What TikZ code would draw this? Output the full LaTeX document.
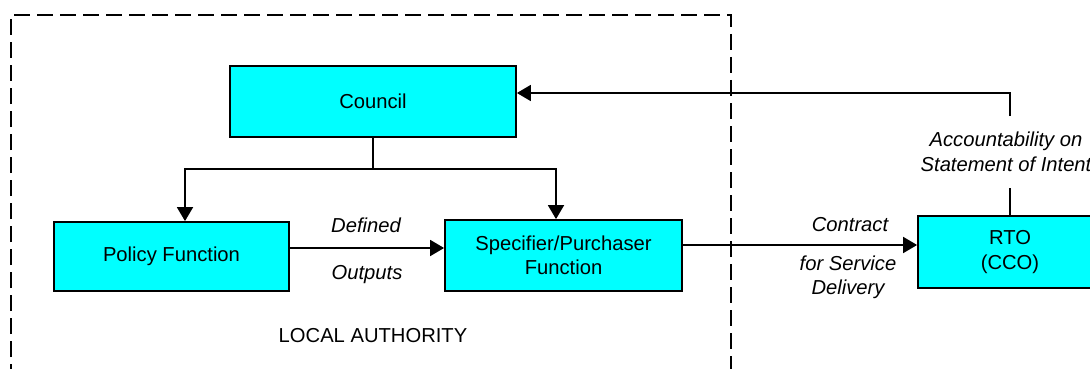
\documentclass[tikz,border=0pt]{standalone}
\usepackage{fontspec}
\setmainfont{Liberation Sans}
\usetikzlibrary{arrows.meta,calc}
\definecolor{boxfill}{RGB}{0,255,255}
\tikzset{
  unit/.style={rectangle, draw=black, line width=1.8pt, fill=boxfill, align=center,
    inner sep=0pt, font=\fontsize{20.2}{24.5}\selectfont},
  lbl/.style={font=\fontsize{20.2}{24.5}\selectfont\itshape, align=center, inner sep=0pt},
  conn/.style={line width=1.8pt, -{Triangle[length=14pt,width=16pt]}},
  plain/.style={line width=1.8pt},
  frame/.style={line width=1.6pt, dash pattern=on 16pt off 7pt},
}
\begin{document}
\begin{tikzpicture}[x=1pt,y=-1pt]
  \useasboundingbox (0,0) rectangle (1090,369);
  \clip (0,0) rectangle (1090,369);

  % local authority boundary (open at the bottom)
  \draw[frame] (11,380) -- (11,15) -- (731,15) -- (731,380);
  \node[font=\fontsize{20.2}{24}\selectfont, inner sep=0pt] (la) at (373,336) {LOCAL AUTHORITY};

  % boxes
  \node[unit, minimum width=286pt, minimum height=71pt] (council) at (373,101.5) {Council};
  \node[unit, minimum width=235pt, minimum height=69pt] (policy) at (171.5,256.5) {Policy Function};
  \node[unit, minimum width=237pt, minimum height=71pt] (spec) at (563.5,255.5) {Specifier/Purchaser\\Function};
  \node[unit, minimum width=184pt, minimum height=72pt] (rto) at (1010,252) {RTO\\(CCO)};

  % council splits down to both functions
  \coordinate (bl) at (185,169);
  \coordinate (br) at (556,169);
  \draw[plain] (council.south) -- (council.south |- bl);
  \draw[conn] (council.south |- bl) -| (bl |- policy.north);
  \draw[conn] (council.south |- br) -| (br |- spec.north);

  % defined outputs
  \draw[conn] ([yshift=8.5pt]policy.east) -- ([yshift=8.5pt]policy.east -| spec.west);
  \node[lbl] (def) at (366,225) {Defined};
  \node[lbl] (out) at (367,275) {Outputs};

  % contract for service delivery
  \draw[conn] ([yshift=10.5pt]spec.east) -- ([yshift=10.5pt]spec.east -| rto.west);
  \node[lbl] (con) at (850,225) {Contract};
  \node[lbl] (svc) at (848,277.5) {for Service\\Delivery};

  % accountability back to council
  \node[lbl, inner ysep=16pt] (acc) at (1006,152) {Accountability on\\Statement of Intent};
  \draw[plain] (rto.north) -- (rto.north |- acc.south);
  \draw[conn] (rto.north |- acc.north) |- ([yshift=8.5pt]council.east);
\end{tikzpicture}
\end{document}
